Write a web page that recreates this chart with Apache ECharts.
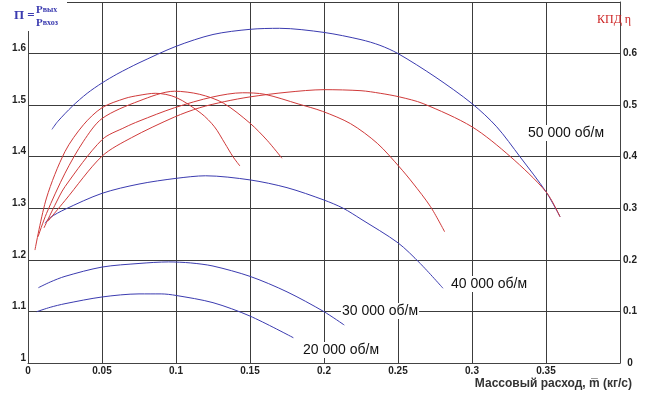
<!DOCTYPE html>
<html>
<head>
<meta charset="utf-8">
<script src="https://cdn.jsdelivr.net/npm/echarts@6/dist/echarts.min.js"></script>
<style>
html,body{margin:0;padding:0;background:#fff;}
#chart{width:650px;height:399px;}
</style>
</head>
<body>
<div id="chart"></div>
<script>
// Pressure ratio curves (left axis), x = mass flow, kg/s
var pr20 = [[0.0059,1.0995],[0.015,1.108],[0.025,1.115],[0.05,1.128],[0.075,1.134],[0.09,1.134],[0.1,1.131],[0.125,1.117],[0.15,1.091],[0.1793,1.049]];
var pr30 = [[0.007,1.146],[0.015,1.157],[0.025,1.168],[0.05,1.186],[0.075,1.193],[0.095,1.196],[0.11,1.194],[0.125,1.188],[0.15,1.168],[0.175,1.138],[0.2,1.0995],[0.2137,1.0736]];
var pr40 = [[0.0115,1.271],[0.015,1.282],[0.025,1.298],[0.05,1.329],[0.075,1.347],[0.1,1.358],[0.12,1.363],[0.15,1.355],[0.175,1.34],[0.2,1.316],[0.213,1.3],[0.225,1.279],[0.25,1.233],[0.265,1.193],[0.2804,1.145]];
var pr50 = [[0.0162,1.453],[0.02,1.468],[0.03,1.498],[0.04,1.523],[0.05,1.543],[0.06,1.560],[0.068,1.572],[0.075,1.582],[0.1,1.614],[0.125,1.637],[0.15,1.647],[0.17,1.649],[0.2,1.641],[0.225,1.627],[0.2378,1.616],[0.25,1.6],[0.275,1.555],[0.3,1.503],[0.3167,1.458],[0.3324,1.40],[0.35,1.332],[0.3595,1.2835]];
// Efficiency curves (right axis)
var eff20 = [[0.0047,0.219],[0.0125,0.32],[0.025,0.41],[0.0375,0.462],[0.05,0.495],[0.0655,0.513],[0.075,0.519],[0.086,0.523],[0.1,0.515],[0.117,0.484],[0.126,0.458],[0.133,0.426],[0.1385,0.40],[0.1432,0.382]];
var eff30 = [[0.0068,0.245],[0.0125,0.29],[0.025,0.368],[0.0375,0.43],[0.05,0.474],[0.075,0.508],[0.099,0.527],[0.116,0.521],[0.132,0.504],[0.15,0.465],[0.1615,0.432],[0.1716,0.397]];
var eff40 = [[0.0108,0.262],[0.018,0.305],[0.025,0.342],[0.05,0.433],[0.0655,0.457],[0.075,0.469],[0.099,0.495],[0.125,0.516],[0.145,0.524],[0.16,0.521],[0.183,0.502],[0.199,0.488],[0.218,0.464],[0.236,0.426],[0.251,0.38],[0.26,0.349],[0.272,0.303],[0.2815,0.2545]];
var eff50 = [[0.0135,0.275],[0.025,0.315],[0.05,0.401],[0.07,0.437],[0.099,0.477],[0.116,0.495],[0.133,0.507],[0.15,0.516],[0.175,0.525],[0.2,0.530],[0.225,0.528],[0.238,0.523],[0.251,0.516],[0.267,0.503],[0.3,0.458],[0.326,0.40],[0.35,0.332],[0.3595,0.2835]];

var speedLabels = ['20 000 об/м','30 000 об/м','40 000 об/м','50 000 об/м'];
var xAxisTitle = 'Массовый расход, m\u0305 (кг/с)';
var leftTitleMain = 'П =';
var rightTitle = 'КПД η';

var BLUE = '#3b3bb0', RED = '#d03a3a', GRID = '#3c3c3c';

function line(data, color, yIdx) {
  return {type:'line', data:data, yAxisIndex:yIdx, showSymbol:false, symbol:'none',
    smooth:0.3, lineStyle:{color:color, width:1}, silent:true, z:3};
}

var chart = echarts.init(document.getElementById('chart'), null, {renderer:'canvas'});
var labelFont = {fontFamily:'Arial', fontWeight:'bold', fontSize:10, color:'#222'};
var serifRich = {
  P:{fontFamily:'Liberation Serif', fontWeight:'bold', fontSize:11, fill:BLUE, color:BLUE},
  s:{fontFamily:'Liberation Serif', fontWeight:'bold', fontSize:8, fill:BLUE, color:BLUE}
};
chart.setOption({
  animation:false,
  backgroundColor:'#fff',
  grid:{left:28, right:30, top:2, bottom:36},
  xAxis:{type:'value', min:0, max:0.4, interval:0.05,
    axisLine:{show:true, lineStyle:{color:'#444'}}, axisTick:{show:false},
    splitLine:{show:true, lineStyle:{color:GRID, width:1}},
    axisLabel:Object.assign({margin:3, formatter:function(v){ return v>=0.399?'':String(+v.toFixed(2)); }}, labelFont)},
  yAxis:[
    {type:'value', min:1, max:1.7, interval:0.1, position:'left',
      axisLine:{show:true, lineStyle:{color:'#444'}}, axisTick:{show:false},
      splitLine:{show:true, lineStyle:{color:GRID, width:1}},
      axisLabel:Object.assign({margin:2, verticalAlign:'bottom', formatter:function(v){ return v>1.65?'':String(+v.toFixed(1)); }}, labelFont)},
    {type:'value', min:0, max:0.7, interval:0.1, position:'right',
      axisLine:{show:true, lineStyle:{color:'#444'}}, axisTick:{show:false},
      splitLine:{show:false},
      axisLabel:Object.assign({margin:10, align:'center', formatter:function(v){ return v>0.65?'':String(+v.toFixed(1)); }}, labelFont)}
  ],
  series:[
    line(pr20, BLUE, 0), line(pr30, BLUE, 0), line(pr40, BLUE, 0), line(pr50, BLUE, 0),
    line(eff20, RED, 1), line(eff30, RED, 1), line(eff40, RED, 1), line(eff50, RED, 1)
  ],
  graphic:[
    {type:'rect', shape:{x:0, y:0, width:67, height:31}, style:{fill:'#fff'}, z:50},
    {type:'text', x:14, y:16, z:51, style:{text:leftTitleMain, font:'bold 13px "Liberation Serif", serif', fill:BLUE, verticalAlign:'middle'}},
    {type:'text', x:36, y:10, z:51, style:{text:'{P|Р}{s|вых}', fill:BLUE, verticalAlign:'middle', rich:serifRich}},
    {type:'text', x:36, y:23, z:51, style:{text:'{P|Р}{s|вхоз}', fill:BLUE, verticalAlign:'middle', rich:serifRich}},
    {type:'text', x:597, y:20, z:51, style:{text:rightTitle, font:'12px "Liberation Serif", serif', fill:'#cc2222', verticalAlign:'middle'}},
    {type:'text', x:527, y:133, z:51, style:{text:speedLabels[3], font:'14px Arial', fill:'#111', verticalAlign:'middle', backgroundColor:'#fff', padding:[1,1]}},
    {type:'text', x:450, y:284, z:51, style:{text:speedLabels[2], font:'14px Arial', fill:'#111', verticalAlign:'middle', backgroundColor:'#fff', padding:[1,1]}},
    {type:'text', x:341, y:311, z:51, style:{text:speedLabels[1], font:'14px Arial', fill:'#111', verticalAlign:'middle', backgroundColor:'#fff', padding:[1,1]}},
    {type:'text', x:302, y:350, z:51, style:{text:speedLabels[0], font:'14px Arial', fill:'#111', verticalAlign:'middle', backgroundColor:'#fff', padding:[1,1]}},
    {type:'text', x:632, y:384, z:51, style:{text:xAxisTitle, font:'bold 12px Arial', fill:'#333', align:'right', verticalAlign:'middle'}}
  ]
});
</script>
</body>
</html>
